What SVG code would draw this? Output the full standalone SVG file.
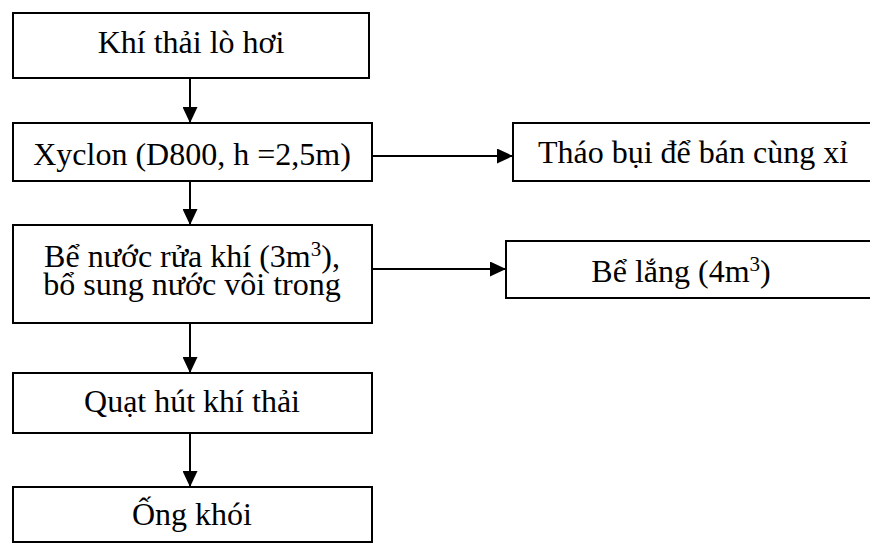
<svg xmlns="http://www.w3.org/2000/svg" width="870" height="543" viewBox="0 0 870 543">
<style>
.box{fill:#fff;stroke:#000;stroke-width:2}
.t{font-family:"Liberation Serif","Times New Roman",serif;font-size:32px;fill:#000;text-anchor:middle}
.c{stroke:#000;stroke-width:2;fill:none;marker-end:url(#ah)}
</style>
<defs>
<marker id="ah" markerUnits="userSpaceOnUse" markerWidth="17" markerHeight="15" refX="16" refY="7.5" orient="auto">
<path d="M0,0 L16,7.5 L0,15 z" fill="#000"/>
</marker>
</defs>
<rect width="870" height="543" fill="#fff"/>
<g id="n1"><rect class="box" x="13" y="13" width="356" height="65"/><text class="t" x="191" y="53">Khí thải lò hơi</text></g>
<g id="n2"><rect class="box" x="13" y="123" width="359" height="58"/><text class="t" x="192" y="165">Xyclon (D800, h =2,5m)</text></g>
<g id="n3"><rect class="box" x="13" y="225" width="359" height="98"/><text class="t" x="192" y="267">Bể nước rửa khí (3m<tspan font-size="21" dy="-11">3</tspan><tspan dy="11">),</tspan></text><text class="t" x="192" y="295">bổ sung nước vôi trong</text></g>
<g id="n4"><rect class="box" x="13" y="373" width="359" height="60"/><text class="t" x="192" y="412">Quạt hút khí thải</text></g>
<g id="n5"><rect class="box" x="13" y="487" width="359" height="55"/><text class="t" x="192" y="525">Ống khói</text></g>
<g id="n6"><rect class="box" x="513" y="123" width="370" height="58"/><text class="t" x="693" y="163">Tháo bụi để bán cùng xỉ</text></g>
<g id="n7"><rect class="box" x="506" y="241" width="377" height="57"/><text class="t" x="681" y="282">Bể lắng (4m<tspan font-size="21" dy="-11">3</tspan><tspan dy="11">)</tspan></text></g>
<g id="connectors">
<line class="c" x1="190" y1="78" x2="190" y2="123"/>
<line class="c" x1="190" y1="181" x2="190" y2="225"/>
<line class="c" x1="190" y1="323" x2="190" y2="373"/>
<line class="c" x1="190" y1="433" x2="190" y2="487"/>
<line class="c" x1="372" y1="156" x2="513" y2="156"/>
<line class="c" x1="372" y1="269" x2="506" y2="269"/>
</g>
</svg>
